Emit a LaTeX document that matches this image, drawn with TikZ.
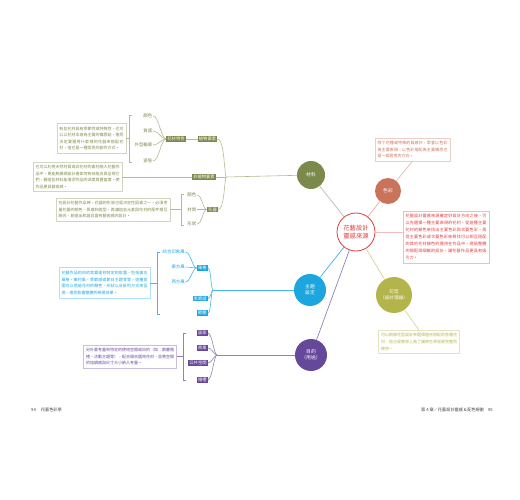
\documentclass[tikz,border=0pt]{standalone}
\usepackage{fontspec}
\setmainfont{Noto Sans CJK TC}
\XeTeXlinebreaklocale "zh"
\XeTeXlinebreakskip = 0pt plus 1pt
\definecolor{cMat}{HTML}{7B8A4B}
\definecolor{cMatL}{HTML}{B3BB92}
\definecolor{cCol}{HTML}{C9735B}
\definecolor{cTheme}{HTML}{1BA6DF}
\definecolor{cShape}{HTML}{B3B54A}
\definecolor{cPurp}{HTML}{66489A}
\definecolor{cRed}{HTML}{E2393B}
\definecolor{cFoot}{HTML}{444444}
\begin{document}
\begin{tikzpicture}[x=1pt,y=-1pt,
  hub/.style={circle, inner sep=0pt, text=white, align=center, font=\fontsize{4.8}{5.8}\selectfont},
  tag/.style={fill=#1, text=white, inner xsep=1.2pt, inner ysep=0.9pt, font=\fontsize{4.3}{4.6}\selectfont},
  leaf/.style={text=#1, inner sep=0.6pt, font=\fontsize{4.4}{4.6}\selectfont},
  note/.style={draw=#1!35, text=#1, line width=0.6pt, inner xsep=2.5pt, inner ysep=3pt, align=justify, font=\fontsize{4}{6.6}\selectfont},
  wire/.style={draw=#1, line width=0.6pt},
  foot/.style={text=cFoot, inner sep=0pt, font=\fontsize{4.2}{5}\selectfont}]
\useasboundingbox (0,0) rectangle (520,500);

% ---------- hubs ----------
\node[hub, minimum size=38pt, draw=cRed, line width=0.8pt, fill=white, text=cRed, font=\fontsize{6.3}{7.6}\selectfont] (core) at (356,232) {花藝設計\\靈感來源};
\node[hub, fill=cMat, minimum size=28pt] (mat) at (311,175) {材料};
\node[hub, fill=cCol, minimum size=26pt] (col) at (388,191) {色彩};
\node[hub, fill=cTheme, minimum size=32pt] (theme) at (310,290) {主題\\設定};
\node[hub, fill=cShape, minimum size=36pt, font=\fontsize{4.6}{5.8}\selectfont] (shape) at (394,295) {花型\\（設計理論）};
\node[hub, fill=cPurp, minimum size=32pt] (purp) at (311,355) {目的\\（用途）};

\draw[wire=gray!55, line width=0.7pt] (core) -- (mat);
\draw[wire=cCol!55, line width=0.7pt] (core) -- (col);
\draw[wire=cShape!60, line width=0.7pt] (core) -- (shape);
\draw[wire=cTheme!85, line width=0.7pt] (core) -- (theme);
\draw[wire=cPurp!70, line width=0.7pt] (core) -- (purp);

% ---------- right notes ----------
\node[note=cCol, text width=70pt] (n6) at (412.5,149.5) {除了花種或特殊的質感外，常會以色彩為主要表現，以色彩搭配為主要構思也是一個思考的方向。};
\draw[wire=cCol!55] (col) -- (n6.south);

\node[note=cRed, text width=81pt, font=\fontsize{4.1}{7}\selectfont] (n7) at (446,237) {花藝設計靈感來源確定好設計方向之後，可以先選擇一種主要表現的花材，從這種主要花材的顏色來找出主要色彩與次要色彩，再從主要色彩或次要色彩來尋找可以相互搭配的其他花材顏色的運用在作品中，透過整體的搭配與細膩的設計，讓花藝作品更具有吸引力。};
\draw[wire=cRed!35, line width=0.9pt] (core) -- (core -| n7.west);

\node[note=cShape, text width=76pt] (n8) at (419,342) {可以根據花型設計來選擇適合搭配的各種花材，這也是教學上為了讓學生學習更完整而使用。};
\draw[wire=cShape!60] (shape) -- (n8.north);

% ---------- material tree ----------
\coordinate (j1) at (226,177);
\draw[wire=cMatL] (mat) -- (j1);
\node[tag=cMat] (plant) at (207.5,139) {植物要素};
\node[tag=cMat] (trait) at (176,139) {花材特性};
\node[tag=cMat] (nonplant) at (204,177) {非植物要素};
\node[tag=cMat] (vase) at (212.5,209.5) {花器};
\draw[wire=cMatL] (trait) -- (plant);
\draw[wire=cMatL] (plant.east) .. controls (224,139) and (224,168) .. (j1);
\draw[wire=cMatL] (nonplant.east) -- (j1);
\draw[wire=cMatL] (vase.east) .. controls (224,209.5) and (224,186) .. (j1);

\node[leaf=cMat, anchor=east] (a1) at (153,116) {顏色};
\node[leaf=cMat, anchor=east] (a2) at (153,131) {質感};
\node[leaf=cMat, anchor=east] (a3) at (153,145) {外型輪廓};
\node[leaf=cMat, anchor=east] (a4) at (153,161) {姿態};
\foreach \n in {a1,a2,a3,a4}
  \draw[wire=cMatL] (\n.east) .. controls ([xshift=6pt]\n.east) and ([xshift=-5pt]trait.west) .. (trait.west);
\draw[wire=cMatL] (132,115) -- (129,115) -- (129,162) -- (132,162);
\node[note=cMat, text width=64pt] (n1) at (91.5,138.5) {有些花材具有季節性或特殊性，也可以以花材本身為主要的構思點，進而決定要運用什麼樣的花器來搭配花材，這也是一種常見的創作方式。};
\draw[wire=cMatL] (129,138.5) -- (n1.east);

\node[note=cMat, text width=84pt] (n2) at (77.5,177) {也可以利用天然材質或非花材的素材融入花藝作品中，更能夠展現設計者如何有效組合與呈現它們，藉這些材料能增添作品的深度與豐富度，使作品更具藝術感。};
\draw[wire=cMatL] (n2.east) -- (nonplant.west);

\node[leaf=cMat, anchor=east] (b1) at (197,195) {顏色};
\node[leaf=cMat, anchor=east] (b2) at (197,209.5) {材質};
\node[leaf=cMat, anchor=east] (b3) at (197,224) {形狀};
\foreach \n in {b1,b2,b3}
  \draw[wire=cMatL] (\n.east) .. controls ([xshift=5pt]\n.east) and ([xshift=-4pt]vase.west) .. (vase.west);
\draw[wire=cMatL] (184,194) -- (181,194) -- (181,225) -- (184,225);
\node[note=cMat, text width=109pt] (n3) at (113,209.5) {在設計花藝作品時，花器的形狀也是決定性因素之一，必須考量花器的顏色、質感和造型，再讓這些元素與花材的配件相互融合，創造出和諧且富有藝術感的設計。};
\draw[wire=cMatL] (181,209.5) -- (n3.east);

% ---------- theme tree ----------
\coordinate (j3) at (213,290);
\draw[wire=cTheme!80] (theme) -- (j3);
\node[tag=cTheme, anchor=east] (s1) at (208,268) {風格};
\node[tag=cTheme, anchor=east] (s2) at (208,298.5) {季節感};
\node[tag=cTheme, anchor=east] (s3) at (208,313) {節慶};
\foreach \n in {s1,s2,s3}
  \draw[wire=cTheme!80] (\n.east) .. controls ([xshift=3pt]\n.east) and (211,290) .. (j3);
\node[leaf=cTheme, anchor=east] (c1) at (185.5,252) {綜合印象風};
\node[leaf=cTheme, anchor=east] (c2) at (185.5,267) {東方風};
\node[leaf=cTheme, anchor=east] (c3) at (185.5,282) {西方風};
\foreach \n in {c1,c2,c3}
  \draw[wire=cTheme!80] (\n.east) .. controls ([xshift=5pt]\n.east) and ([xshift=-4pt]s1.west) .. (s1.west);
\draw[wire=cTheme!80] (160,252) -- (157,252) -- (157,314) -- (160,314);
\node[note=cTheme, text width=86pt, inner ysep=4pt] (n4) at (104.5,283) {花藝作品的目的常要達到特定的氛圍，包括復古風格、鄉村風、季節感或節日主題等等，這種氛圍可以透過花材的顏色、形狀以及排列方式來呈現，進而影響整體的視覺效果。};
\draw[wire=cTheme!80] (157,283) -- (n4.east);

% ---------- purpose tree ----------
\coordinate (j5) at (217,355);
\draw[wire=cPurp!70] (purp) -- (j5);
\node[tag=cPurp, anchor=east] (p1) at (208,333) {居家};
\node[tag=cPurp, anchor=east] (p2) at (208,348) {商業};
\node[tag=cPurp, anchor=east] (p3) at (208,363) {公共空間};
\node[tag=cPurp, anchor=east] (p4) at (208,380) {婚禮};
\foreach \n in {p1,p2,p3,p4}
  \draw[wire=cPurp!70] (\n.east) .. controls ([xshift=4pt]\n.east) and (214,355) .. (j5);
\draw[wire=cPurp!70] (186,333) -- (183,333) -- (183,380) -- (186,380);
\node[note=cPurp, text width=88pt] (n5) at (130,356.5) {另外要考量到特定的使用空間或目的（如：節慶婚禮、活動主題等），配合場合選用花材，並將空間的協調感與尺寸大小納入考量。};
\draw[wire=cPurp!70] (183,356.5) -- (n5.east);

% ---------- footer ----------
\node[foot, anchor=west] (fl) at (31,410) {94\hspace{5pt}花藝色彩學};
\node[foot, anchor=east] (fr) at (493,410) {第４章／花藝設計靈感＆配色規劃\hspace{4pt}95};
\end{tikzpicture}
\end{document}
